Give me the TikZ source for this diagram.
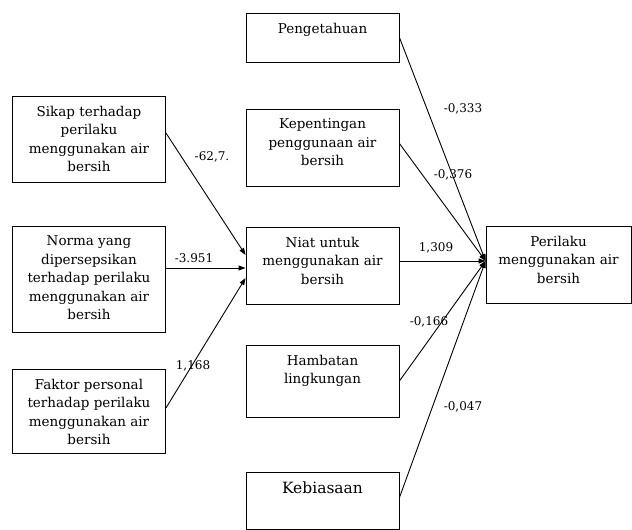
\documentclass[tikz,border=0pt]{standalone}
\usepackage{fontspec}
\setmainfont{DejaVu Serif}
\usetikzlibrary{arrows.meta}

\tikzset{
  varbox/.style={draw, line width=0.9pt, minimum width=153pt, inner sep=0pt},
  boxtext/.style={anchor=north, align=center, inner sep=0pt, yshift=-10pt,
    font=\fontsize{13.5}{18.5}\selectfont},
  coef/.style={font=\fontsize{12}{14}\selectfont, inner sep=1pt},
  path/.style={line width=0.9pt, -{Triangle[length=7pt,width=5pt]}}
}

\begin{document}
\begin{tikzpicture}[x=1pt, y=-1pt]
  \useasboundingbox (0,0) rectangle (632,530);
  % exogenous variables (left)
  \node[varbox, minimum height=86pt,
        label={[boxtext]north:Sikap terhadap\\perilaku\\menggunakan air\\bersih}]
        (Sikap) at (89,139) {};
  \node[varbox, minimum height=106pt,
        label={[boxtext]north:Norma yang\\dipersepsikan\\terhadap perilaku\\menggunakan air\\bersih}]
        (Norma) at (89,279) {};
  \node[varbox, minimum height=84pt,
        label={[boxtext]north:Faktor personal\\terhadap perilaku\\menggunakan air\\bersih}]
        (Faktor) at (89,411) {};
  % middle column
  \node[varbox, minimum height=49pt,
        label={[boxtext]north:Pengetahuan}]
        (Peng) at (322.5,37.5) {};
  \node[varbox, minimum height=77pt,
        label={[boxtext]north:Kepentingan\\penggunaan air\\bersih}]
        (Kep) at (322.5,147.5) {};
  \node[varbox, minimum height=77pt,
        label={[boxtext]north:Niat untuk\\menggunakan air\\bersih}]
        (Niat) at (322.5,265.5) {};
  \node[varbox, minimum height=72pt,
        label={[boxtext]north:Hambatan\\lingkungan}]
        (Hamb) at (322.5,381) {};
  \node[varbox, minimum height=57pt,
        label={[boxtext, font=\fontsize{15.5}{18.5}\selectfont]north:Kebiasaan}]
        (Kebi) at (322.5,500.5) {};
  % outcome
  \node[varbox, minimum width=145pt, minimum height=77pt,
        label={[boxtext]north:Perilaku\\menggunakan air\\bersih}]
        (Peri) at (558.5,264.5) {};

  \coordinate (hub) at ([yshift=3.5pt]Peri.west);
  \coordinate (SikapEnd) at ([yshift=10.5pt]Niat.west);
  \coordinate (NormaEnd) at ([yshift=-2.5pt]Niat.west);
  \coordinate (FaktorEnd) at ([yshift=-12.5pt]Niat.west);

  % paths into Niat
  \draw[path] ([yshift=6pt]Sikap.east) -- (SikapEnd);
  \draw[path] (Norma.east |- NormaEnd) -- (NormaEnd);
  \draw[path] ([yshift=3pt]Faktor.east) -- (FaktorEnd);
  \node[coef] (c1) at (212,157) {-62,7.};
  \node[coef] (c2) at (194,258) {-3.951};
  \node[coef] (c3) at (193,366) {1,168};

  % paths into Perilaku
  \draw[path] (Peng.east) -- (hub);
  \draw[path] ([yshift=4pt]Kep.east) -- (hub);
  \draw[path] (Niat.east |- hub) -- (hub);
  \draw[path] (Hamb.east) -- (hub);
  \draw[path] ([yshift=3pt]Kebi.east) -- (hub);
  \node[coef] (c4) at (463,109) {-0,333};
  \node[coef] (c5) at (453,175) {-0,376};
  \node[coef] (c6) at (436,248) {1,309};
  \node[coef] (c7) at (429,322) {-0,166};
  \node[coef] (c8) at (463,407) {-0,047};
\end{tikzpicture}
\end{document}
